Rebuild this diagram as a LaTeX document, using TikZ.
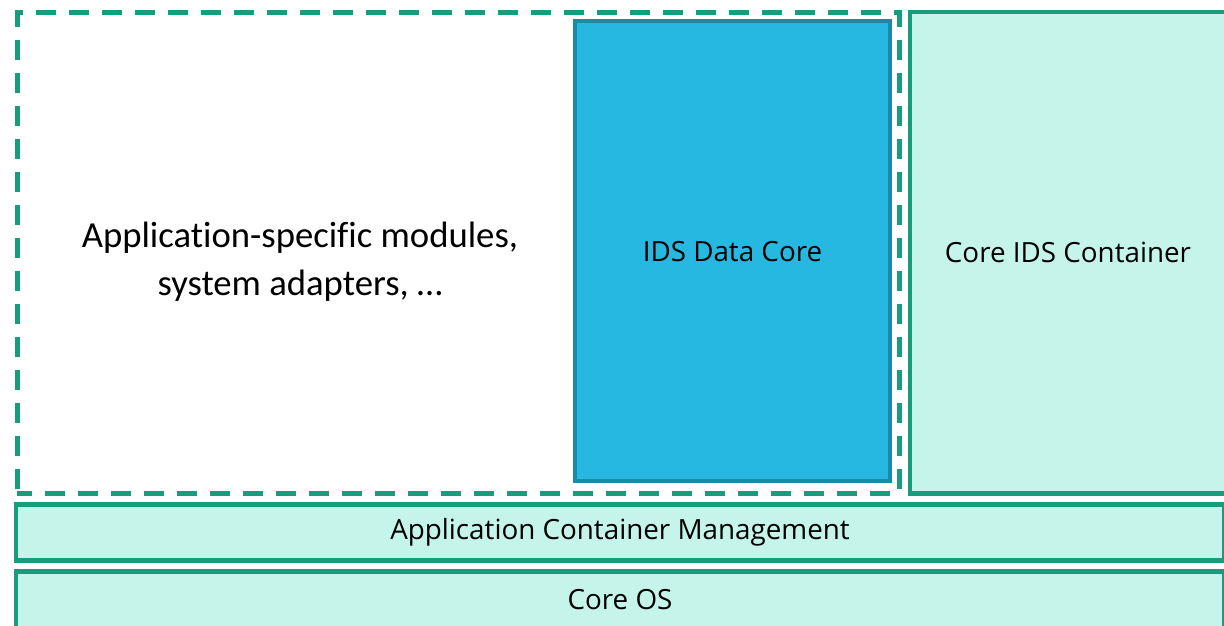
\documentclass[tikz,border=0pt]{standalone}
\usepackage{fontspec}
\setmainfont{Carlito}[Ligatures=NoCommon]
\newfontfamily\labelfont{Open Sans}
\usetikzlibrary{positioning}
\definecolor{idsgreen}{RGB}{24,157,124}
\definecolor{idsmint}{RGB}{197,245,234}
\definecolor{idsblue}{RGB}{38,184,224}
\definecolor{idsblueline}{RGB}{28,137,168}

\begin{document}
\begin{tikzpicture}[x=1bp,y=-1bp,
      every node/.style={inner sep=0pt,outer sep=0pt,anchor=north west},
      layer/.style={draw=idsgreen,fill=idsmint,line width=4.5bp,font=\labelfont\fontsize{27.8bp}{33bp}\selectfont},
      datacore/.style={draw=idsblueline,fill=idsblue,line width=4bp,font=\labelfont\fontsize{27.8bp}{33bp}\selectfont},
      appzone/.style={draw=idsgreen,line width=5bp,dash pattern=on 20bp off 13bp,dash phase=5bp}
      ]
      \useasboundingbox (0,0) rectangle (1224,626);
      % application zone (dashed)
      \node[appzone, minimum width=882bp, minimum height=480.5bp] (apps) at (17,12.5) {};
      \node[anchor=center, align=center, font=\fontsize{36.7bp}{48bp}\selectfont] (appstext) at (300,262)
        {Application-specific modules,\\system adapters, \dots};
      \node[datacore, minimum width=315bp, minimum height=459.5bp] (core) at (575,21.5) {IDS Data Core};
      \node[layer, minimum width=316bp, minimum height=481.5bp] (container) at (910,12) {Core IDS Container};
      % lower layers
      \node[layer, minimum width=1208bp, minimum height=56bp] (acm) at (16,504.5) {Application Container Management};
      \node[layer, minimum width=1208bp, minimum height=57bp] (os) at (16,571.5) {Core OS};
    \end{tikzpicture}
\end{document}
